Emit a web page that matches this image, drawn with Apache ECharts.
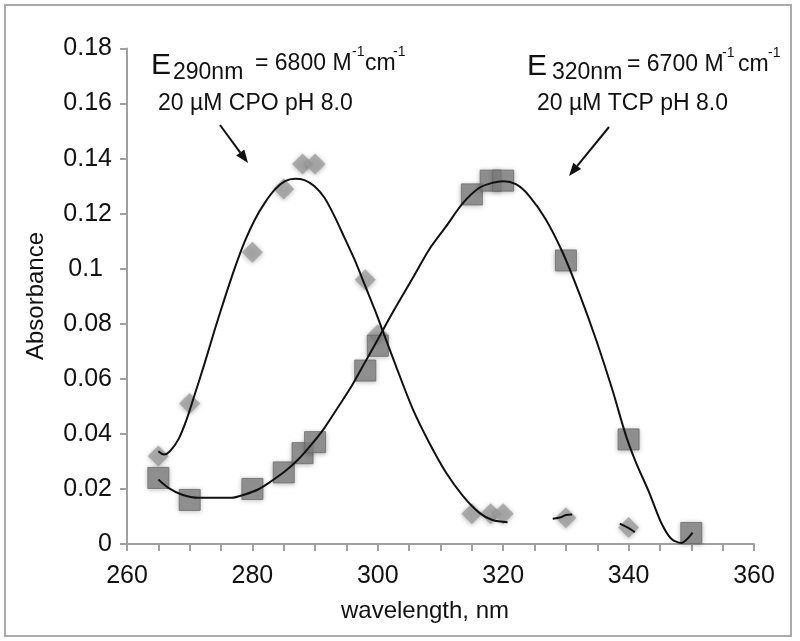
<!DOCTYPE html>
<html><head><meta charset="utf-8">
<script src="https://cdn.jsdelivr.net/npm/echarts@6/dist/echarts.min.js"></script>
<style>html,body{margin:0;padding:0;background:#fff}#c{width:800px;height:641px}</style>
</head><body><div id="c"></div>
<script>
// ---- data ----
const cpoWavelength = [265, 270, 280, 285, 288, 290, 298, 300, 315, 318, 320, 330, 340];
const cpoAbsorbance = [0.032, 0.051, 0.106, 0.129, 0.138, 0.138, 0.096, 0.076, 0.011, 0.011, 0.011, 0.0095, 0.006];
const tcpWavelength = [265, 270, 280, 285, 288, 290, 298, 300, 315, 318, 320, 330, 340, 350];
const tcpAbsorbance = [0.024, 0.016, 0.020, 0.026, 0.033, 0.037, 0.063, 0.072, 0.127, 0.132, 0.132, 0.103, 0.038, 0.004];
const cpoCurve = [[265.0,0.0337],[265.9,0.0325],[266.85,0.0337],[268.2,0.038],[269.5,0.0452],[270.8,0.0543],[272.4,0.0658],[274.0,0.0779],[275.6,0.0894],[277.2,0.1003],[278.8,0.110],[280.4,0.1179],[282.0,0.124],[283.6,0.1288],[285.2,0.1318],[286.8,0.1327],[288.3,0.1322],[289.9,0.130],[291.5,0.1258],[293.1,0.119],[294.7,0.1112],[296.3,0.1033],[297.9,0.0943],[299.5,0.0852],[301.1,0.0755],[302.9,0.0646],[305.6,0.0489],[308.2,0.0368],[310.9,0.0259],[313.6,0.0174],[316.2,0.0113],[318.3,0.0087],[320.7,0.0079]];
const cpoFragment330 = [[327.9,0.0092],[329.2,0.0097],[330.0,0.0105],[331.0,0.0107]];
const cpoFragment340 = [[338.6,0.0074],[339.8,0.0060],[341.0,0.0043]];
const tcpCurve = [[265.0,0.0234],[266.6,0.0204],[268.7,0.018],[271.4,0.0168],[274.0,0.0168],[276.7,0.0168],[278.8,0.018],[280.9,0.0198],[283.0,0.0228],[285.2,0.0264],[287.3,0.0307],[289.4,0.0361],[291.5,0.0422],[293.6,0.0495],[295.8,0.0573],[297.9,0.0658],[300.0,0.0743],[302.1,0.0830],[305.6,0.0967],[308.2,0.107],[310.9,0.1154],[313.6,0.1239],[316.2,0.1294],[318.3,0.1312],[319.9,0.1318],[322.1,0.1306],[324.2,0.1263],[326.8,0.1179],[329.5,0.1058],[332.1,0.0912],[334.8,0.0743],[337.4,0.0561],[339.6,0.0392],[341.2,0.0295],[343.3,0.0186],[345.2,0.0077],[346.8,0.0019],[348.4,0.0004],[350.2,0.0041]];
const xTickLabels = ['260', '280', '300', '320', '340', '360'];
const yTickLabels = ['0', '0.02', '0.04', '0.06', '0.08', '0.1', '0.12', '0.14', '0.16', '0.18'];

// ---- chart ----
const FONT = '"Liberation Sans", Arial, sans-serif';
const AX = '#a0a0a0';
const chart = echarts.init(document.getElementById('c'), null, {renderer: 'canvas'});

function txt(text, x, y, size, align) {
  return {type: 'text', z: 100, style: {text: text, x: x, y: y, fill: '#111',
    font: size + 'px ' + FONT, textAlign: align || 'left', textVerticalAlign: 'middle',
    align: align || 'left', verticalAlign: 'middle'}};
}
function arrow(x1, y1, x2, y2) {
  const a = Math.atan2(y2 - y1, x2 - x1), L = 13, W = 5;
  const bx = x2 - L * Math.cos(a), by = y2 - L * Math.sin(a);
  const px = -Math.sin(a) * W, py = Math.cos(a) * W;
  return [
    {type: 'line', z: 100, shape: {x1: x1, y1: y1, x2: bx, y2: by}, style: {stroke: '#111', lineWidth: 2}},
    {type: 'polygon', z: 100, shape: {points: [[x2, y2], [bx + px, by + py], [bx - px, by - py]]}, style: {fill: '#111'}}
  ];
}

const graphics = [
  {type: 'rect', z: 0, shape: {x: 5, y: 5, width: 786, height: 631}, style: {fill: 'none', stroke: '#aaa', lineWidth: 2}},
  txt('E', 151, 66, 30), txt('290nm', 173, 73, 23), txt('= 6800 M', 255, 64, 23),
  txt('-1', 352, 52, 14), txt('cm', 365, 64, 23), txt('-1', 393, 52, 14),
  txt('20 µM CPO pH 8.0', 158, 103.5, 23),
  txt('E', 527, 66.5, 30), txt('320nm', 552, 73, 23), txt('= 6700 M', 627, 65, 23),
  txt('-1', 722, 53, 14), txt('cm', 738, 65, 23), txt('-1', 768, 53, 14),
  txt('20 µM TCP pH 8.0', 537, 103.5, 23),
  {type: 'text', z: 100, style: {text: 'wavelength, nm', x: 425, y: 611, fill: '#111', font: '24px ' + FONT,
    textAlign: 'center', textVerticalAlign: 'middle', align: 'center', verticalAlign: 'middle'}},
  {type: 'text', z: 100, x: 36, y: 296, rotation: Math.PI / 2, style: {text: 'Absorbance', x: 0, y: 0, fill: '#111',
    font: '24px ' + FONT, textAlign: 'center', textVerticalAlign: 'middle', align: 'center', verticalAlign: 'middle'}}
].concat(arrow(220, 125, 248, 163), arrow(609, 127, 569, 176));

const lineStyleCurve = {color: '#111', width: 2};
chart.setOption({
  animation: false,
  backgroundColor: '#fff',
  grid: {left: 127, right: 46, top: 48.5, bottom: 97, containLabel: false, outerBoundsMode: 'none'},
  xAxis: {
    type: 'value', min: 260, max: 360, interval: 20,
    axisLine: {show: true, onZero: false, lineStyle: {color: AX, width: 2}},
    axisTick: {show: true, length: 7, lineStyle: {color: AX, width: 2}},
    minorTick: {show: true, splitNumber: 4, length: 7, lineStyle: {color: AX, width: 2}},
    splitLine: {show: false}, minorSplitLine: {show: false},
    axisLabel: {color: '#111', fontSize: 25, fontFamily: FONT, margin: 20,
      formatter: (v, i) => xTickLabels[i]}
  },
  yAxis: {
    type: 'value', min: 0, max: 0.18, interval: 0.02,
    axisLine: {show: true, onZero: false, lineStyle: {color: AX, width: 2}},
    axisTick: {show: true, length: 7, lineStyle: {color: AX, width: 2}},
    splitLine: {show: false},
    axisLabel: {color: '#111', fontSize: 25, fontFamily: FONT, margin: 15,
      formatter: (v, i) => yTickLabels[i] === '0.1' ? '{p|0.1}' : yTickLabels[i],
      rich: {p: {fontSize: 25, fontFamily: FONT, color: '#111', padding: [0, 9, 0, 0]}}}
  },
  series: [
    {type: 'scatter', name: 'CPO', z: 2, symbol: 'diamond', symbolSize: [21, 21],
      itemStyle: {color: '#9d9d9d', shadowBlur: 5, shadowColor: 'rgba(0,0,0,0.35)', shadowOffsetY: 1},
      data: cpoWavelength.map((w, i) => [w, cpoAbsorbance[i]])},
    {type: 'scatter', name: 'TCP', z: 3, symbol: 'rect', symbolSize: [21, 21],
      itemStyle: {color: '#858585', borderColor: '#6a6a6a', borderWidth: 1, shadowBlur: 5, shadowColor: 'rgba(0,0,0,0.35)', shadowOffsetY: 1},
      data: tcpWavelength.map((w, i) => [w, tcpAbsorbance[i]])},
    {type: 'line', z: 5, data: cpoCurve, smooth: 0.3, showSymbol: false, lineStyle: lineStyleCurve},
    {type: 'line', z: 5, data: cpoFragment330, smooth: 0.3, showSymbol: false, lineStyle: lineStyleCurve},
    {type: 'line', z: 5, data: cpoFragment340, smooth: 0.3, showSymbol: false, lineStyle: lineStyleCurve},
    {type: 'line', z: 5, data: tcpCurve, smooth: 0.3, showSymbol: false, lineStyle: lineStyleCurve}
  ],
  graphic: graphics
});
</script></body></html>
